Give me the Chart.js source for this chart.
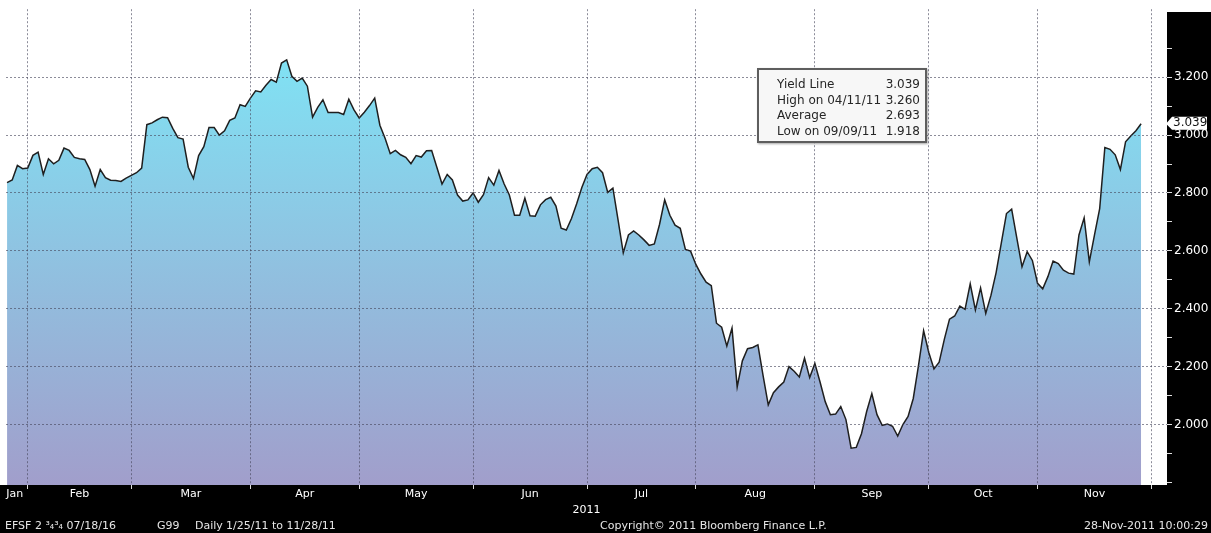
<!DOCTYPE html>
<html>
<head>
<meta charset="utf-8">
<script src="https://cdn.jsdelivr.net/npm/chart.js@4.4.0/dist/chart.umd.min.js"></script>
<style>
html,body{margin:0;padding:0;background:#000;}
#wrap{position:relative;width:1211px;height:533px;overflow:hidden;background:#000;}
#c{position:absolute;left:0;top:0;}
#stats{position:absolute;left:757px;top:68px;width:166px;height:71px;border:2px solid #5e5e5e;background:#f7f7f7;box-shadow:1px 1px 2px rgba(0,0,0,0.35);font:12px "DejaVu Sans",sans-serif;color:#262626;box-sizing:content-box;}
#stats .row{position:absolute;left:18px;right:5px;height:16px;line-height:16px;white-space:pre;}
#stats .row span.v{position:absolute;right:0;top:0;}
.foot{position:absolute;top:519px;font:11px "DejaVu Sans",sans-serif;color:#e6e6e6;white-space:pre;line-height:14px;}
</style>
</head>
<body>
<div id="wrap">
<canvas id="c" width="1211" height="533"></canvas>
<div id="stats"></div>
<div id="footer"></div>
</div>
<script>
// ---- data ----
const months = ['Jan','Feb','Mar','Apr','May','Jun','Jul','Aug','Sep','Oct','Nov'];
const tradingDays = [5,20,23,21,22,22,21,23,22,21,22]; // trading days shown per month (Jan from 25th)
const yields = [
 2.836,2.845,2.895,2.884,2.886,2.930,2.941,2.864,2.918,2.901,
 2.913,2.955,2.947,2.923,2.918,2.916,2.881,2.823,2.881,2.853,
 2.844,2.843,2.840,2.851,2.861,2.870,2.886,3.036,3.042,3.053,
 3.062,3.060,3.023,2.991,2.986,2.889,2.850,2.929,2.960,3.026,
 3.026,3.000,3.015,3.051,3.059,3.105,3.099,3.128,3.153,3.149,
 3.172,3.192,3.183,3.249,3.260,3.203,3.186,3.197,3.169,3.062,
 3.096,3.122,3.078,3.078,3.078,3.071,3.124,3.087,3.059,3.079,
 3.102,3.128,3.034,2.989,2.936,2.947,2.932,2.923,2.901,2.929,
 2.924,2.946,2.947,2.889,2.831,2.864,2.845,2.793,2.772,2.776,
 2.800,2.768,2.794,2.853,2.827,2.878,2.831,2.793,2.723,2.723,
 2.782,2.721,2.720,2.759,2.777,2.785,2.755,2.678,2.672,2.712,
 2.763,2.819,2.864,2.884,2.889,2.870,2.802,2.817,2.706,2.593,
 2.655,2.669,2.655,2.638,2.619,2.624,2.691,2.776,2.723,2.689,
 2.678,2.605,2.599,2.554,2.520,2.492,2.480,2.350,2.336,2.271,
 2.333,2.130,2.220,2.262,2.266,2.275,2.169,2.068,2.110,2.130,
 2.147,2.200,2.184,2.164,2.229,2.162,2.211,2.147,2.079,2.034,
 2.036,2.062,2.017,1.918,1.921,1.968,2.045,2.107,2.034,1.997,
 2.002,1.994,1.960,2.000,2.028,2.090,2.203,2.324,2.249,2.192,
 2.215,2.294,2.364,2.375,2.409,2.398,2.486,2.396,2.472,2.384,
 2.446,2.525,2.627,2.729,2.744,2.644,2.545,2.597,2.567,2.488,
 2.469,2.511,2.565,2.556,2.533,2.523,2.520,2.655,2.714,2.562,
 2.655,2.746,2.957,2.951,2.932,2.881,2.977,2.997,3.015,3.039
];
const yMajorTicks = [2.0,2.2,2.4,2.6,2.8,3.0,3.2];
const yMinorTicks = [1.8,1.9,2.1,2.3,2.5,2.7,2.9,3.1,3.3];
const xTitle = '2011';
const statLabels = ['Yield Line','High on 04/11/11','Average','Low on 09/09/11'];
const statValues = ['3.039','3.260','2.693','1.918'];
const lastValueLabel = '3.039';
const footerLeft = [['EFSF 2 \u00B3\u2084\u00B3\u2084 07/18/16',5],['G99',157],['Daily',195],['1/25/11 to 11/28/11',226]];
const footerCenter = 'Copyright\u00A9 2011 Bloomberg Finance L.P.';
const footerRight = '28-Nov-2011 10:00:29';

// ---- derived tick tables ----
const boundaries = [];
let cum = 0;
tradingDays.forEach(d => { cum += d; boundaries.push(cum - 1); });
const mids = months.map((m, i) => ((i === 0 ? -1 : boundaries[i - 1]) + boundaries[i]) / 2);
const boundarySet = new Set(boundaries);
const xTickList = [...boundaries, ...mids].sort((a, b) => a - b);
const midLabel = v => { const k = mids.findIndex(m => Math.abs(m - v) < 1e-6); return k >= 0 ? months[k] : ''; };
const isMajorY = v => yMajorTicks.some(m => Math.abs(m - v) < 1e-6);
const yTickList = [...yMajorTicks, ...yMinorTicks].sort((a, b) => a - b);

const gridCol = 'rgba(70,70,90,0.62)';

const bgPlugin = {
  id: 'bg',
  beforeDraw(chart) {
    const {ctx, chartArea: a} = chart;
    ctx.save();
    ctx.fillStyle = '#000';
    ctx.fillRect(0, 0, chart.width, chart.height);
    ctx.fillStyle = '#fff';
    ctx.fillRect(0, 0, a.right, a.bottom);
    ctx.fillRect(a.right, 0, chart.width - a.right, 12);
    ctx.restore();
  }
};
const lastPlugin = {
  id: 'lastValue',
  afterDraw(chart) {
    const {ctx, chartArea: a} = chart;
    const y = chart.scales.y.getPixelForValue(yields[yields.length - 1]);
    const x0 = a.right;
    ctx.save();
    ctx.fillStyle = '#fff';
    ctx.beginPath();
    ctx.moveTo(x0 - 1, y);
    ctx.lineTo(x0 + 5, y - 7);
    ctx.lineTo(x0 + 40, y - 7);
    ctx.lineTo(x0 + 40, y + 6);
    ctx.lineTo(x0 + 5, y + 6);
    ctx.closePath();
    ctx.fill();
    ctx.fillStyle = '#111';
    ctx.font = '12px "DejaVu Sans"';
    ctx.textBaseline = 'middle';
    ctx.textAlign = 'left';
    ctx.fillText(lastValueLabel, x0 + 6, y - 0.5);
    ctx.restore();
  }
};

new Chart(document.getElementById('c'), {
  type: 'line',
  data: {
    datasets: [{
      data: yields.map((v, i) => ({x: i, y: v})),
      borderColor: '#1f1f1f',
      borderWidth: 1.5,
      pointRadius: 0,
      tension: 0,
      fill: 'start',
      backgroundColor: (c) => {
        const a = c.chart.chartArea;
        if (!a) return '#8fc4e0';
        const g = c.chart.ctx.createLinearGradient(0, a.top, 0, a.bottom);
        g.addColorStop(0, '#7ceaf9');
        g.addColorStop(0.1, '#80e2f4');
        g.addColorStop(1, '#a19ecb');
        return g;
      }
    }]
  },
  options: {
    responsive: false,
    animation: false,
    devicePixelRatio: 1,
    layout: {padding: {left: 6, top: 0, right: 0, bottom: 0}},
    plugins: {legend: {display: false}, tooltip: {enabled: false}},
    events: [],
    scales: {
      x: {
        type: 'linear',
        min: -0.2,
        max: 224,
        afterBuildTicks: s => { s.ticks = xTickList.map(v => ({value: v})); },
        afterFit: s => { s.height = 48; },
        ticks: {
          autoSkip: false, maxRotation: 0, minRotation: 0,
          color: '#ffffff', padding: -1,
          font: {family: 'DejaVu Sans', size: 11},
          callback: v => midLabel(v)
        },
        grid: {
          z: 1, lineWidth: 1, tickLength: 4,
          color: c => (c.tick && boundarySet.has(c.tick.value)) ? gridCol : 'rgba(0,0,0,0)',
          tickColor: c => (c.tick && boundarySet.has(c.tick.value)) ? '#dddddd' : 'rgba(0,0,0,0)'
        },
        border: {display: false, dash: [2, 2]},
        title: {display: true, text: xTitle, color: '#ffffff', font: {family: 'DejaVu Sans', size: 11}, padding: {top: 0, bottom: 16}}
      },
      y: {
        type: 'linear',
        position: 'right',
        min: 1.791,
        max: 3.435,
        afterBuildTicks: s => { s.ticks = yTickList.map(v => ({value: v})); },
        afterFit: s => { s.width = 44; },
        ticks: {
          color: '#ffffff', padding: 2,
          font: {family: 'DejaVu Sans', size: 12},
          callback: v => isMajorY(v) ? v.toFixed(3) : ''
        },
        grid: {
          z: 1, lineWidth: 1, tickLength: 5,
          color: c => (c.tick && isMajorY(c.tick.value)) ? gridCol : 'rgba(0,0,0,0)',
          tickColor: '#e0e0e0'
        },
        border: {display: false, dash: [2, 2]}
      }
    }
  },
  plugins: [bgPlugin, lastPlugin]
});

// ---- stats box & footer (real text) ----
const stats = document.getElementById('stats');
statLabels.forEach((l, i) => {
  const r = document.createElement('div');
  r.className = 'row';
  r.style.top = (6 + i * 15.6) + 'px';
  r.textContent = l;
  const v = document.createElement('span');
  v.className = 'v';
  v.textContent = statValues[i];
  r.appendChild(v);
  stats.appendChild(r);
});
const footer = document.getElementById('footer');
const addFoot = (t, css) => { const d = document.createElement('div'); d.className = 'foot'; d.textContent = t; Object.assign(d.style, css); footer.appendChild(d); };
footerLeft.forEach(([t, x]) => addFoot(t, {left: x + 'px'}));
addFoot(footerCenter, {left: '600px'});
addFoot(footerRight, {right: '3px'});
</script>
</body>
</html>
